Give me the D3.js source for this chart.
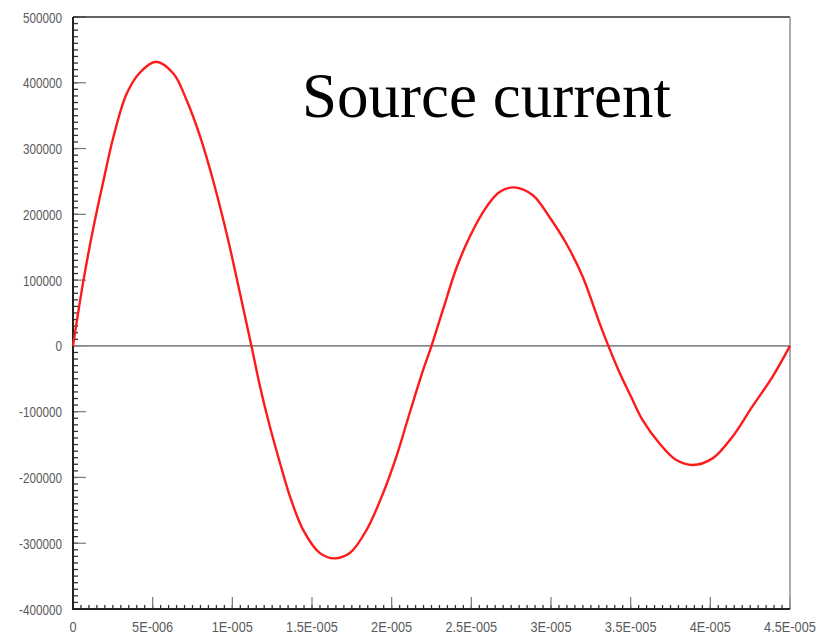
<!DOCTYPE html>
<html>
<head>
<meta charset="utf-8">
<script src="https://cdn.jsdelivr.net/npm/d3@7"></script>
<style>
  html, body { margin: 0; padding: 0; background: #fff; }
  svg { display: block; }
</style>
</head>
<body>
<svg id="chart" width="825" height="636"></svg>
<script>
// ---- data ----
const chartTitle = "Source current";
const timeUs = [0, 0.66, 1.29, 1.92, 2.54, 3.38, 4.22, 5.2, 6.3, 7.14, 7.98, 8.81, 9.65, 10.48, 11.2,
  11.74, 12.36, 12.99, 13.62, 14.45, 15.5, 16.4, 17.37, 18.42, 19.46, 20.3, 21.13, 21.97, 22.5,
  23.22, 24.06, 24.9, 25.94, 26.77, 27.7, 28.86, 29.9, 30.95, 31.99, 33.04, 33.6,
  34.29, 35.02, 35.75, 36.8, 37.84, 38.9, 40.14, 41.39, 42.64, 43.9, 45];
const currentKA = [0, 100, 181, 252, 318, 384, 416, 432, 414, 373, 318, 250, 170, 80, 0,
  -62, -123, -178, -229, -280, -315, -323, -315, -280, -224, -168, -102, -37, 0,
  55, 118, 166, 211, 234, 241, 229, 196, 156, 105, 35, 0,
  -40, -77, -113, -148, -173, -181, -171, -138, -92, -47, 0];
const yTickValues = [500000, 400000, 300000, 200000, 100000, 0, -100000, -200000, -300000, -400000];
const yTickLabels = ["500000", "400000", "300000", "200000", "100000", "0", "-100000", "-200000", "-300000", "-400000"];
const xTickValues = [0, 5e-6, 1e-5, 1.5e-5, 2e-5, 2.5e-5, 3e-5, 3.5e-5, 4e-5, 4.5e-5];
const xTickLabels = ["0", "5E-006", "1E-005", "1.5E-005", "2E-005", "2.5E-005", "3E-005", "3.5E-005", "4E-005", "4.5E-005"];

// ---- layout ----
const svg = d3.select("#chart");
const L = 73, R = 790, T = 17, B = 609;
const x = d3.scaleLinear().domain([0, 4.5e-5]).range([L, R]);
const y = d3.scaleLinear().domain([-400000, 500000]).range([B, T]);

const points = timeUs.map((t, i) => ({ t: t * 1e-6, v: currentKA[i] * 1000 }));

// minor ticks on y axis (inward)
const yMinor = d3.range(-400000, 500001, 10000);
svg.append("g").selectAll("line").data(yMinor).join("line")
  .attr("x1", L).attr("x2", L + 5)
  .attr("y1", d => y(d)).attr("y2", d => y(d))
  .attr("stroke", "#333").attr("stroke-width", 1.3);
// major y ticks
svg.append("g").selectAll("line").data(yTickValues).join("line")
  .attr("x1", L).attr("x2", L + 13)
  .attr("y1", d => y(d)).attr("y2", d => y(d))
  .attr("stroke", "#777").attr("stroke-width", 1.2);

// minor ticks on x axis
const xMinor = d3.range(0, 91).map(i => i * 5e-7);
svg.append("g").selectAll("line").data(xMinor).join("line")
  .attr("x1", d => x(d)).attr("x2", d => x(d))
  .attr("y1", B).attr("y2", B - 4)
  .attr("stroke", "#333").attr("stroke-width", 1.3);
svg.append("g").selectAll("line").data(xTickValues).join("line")
  .attr("x1", d => x(d)).attr("x2", d => x(d))
  .attr("y1", B).attr("y2", B - 12)
  .attr("stroke", "#777").attr("stroke-width", 1.2);

// zero line
svg.append("line")
  .attr("x1", L).attr("x2", R).attr("y1", y(0)).attr("y2", y(0))
  .attr("stroke", "#8a8a8a").attr("stroke-width", 1.6);

// frame
svg.append("line").attr("x1", L).attr("x2", R).attr("y1", T).attr("y2", T)
  .attr("stroke", "#333").attr("stroke-width", 1.6);
svg.append("line").attr("x1", R).attr("x2", R).attr("y1", T).attr("y2", B)
  .attr("stroke", "#999").attr("stroke-width", 1.6);
svg.append("line").attr("x1", L).attr("x2", L).attr("y1", T).attr("y2", B + 1)
  .attr("stroke", "#222").attr("stroke-width", 2);
svg.append("line").attr("x1", L - 1).attr("x2", R).attr("y1", B).attr("y2", B)
  .attr("stroke", "#222").attr("stroke-width", 2);

// curve
const line = d3.line().x(d => x(d.t)).y(d => y(d.v)).curve(d3.curveCatmullRom.alpha(0.5));
svg.append("path").datum(points)
  .attr("d", line)
  .attr("fill", "none").attr("stroke", "#ff1a1a").attr("stroke-width", 2.4)
  .attr("stroke-linejoin", "round");

// y labels
const yLab = svg.append("g").selectAll("text").data(yTickValues).join("text")
  .attr("x", 62).attr("y", d => y(d) + 5.5)
  .attr("text-anchor", "end")
  .attr("font-family", "'Liberation Sans', Arial, sans-serif")
  .attr("font-size", 15).attr("fill", "#5a5a5a")
  .text((d, i) => yTickLabels[i]);
yLab.each(function () {
  const w = this.getComputedTextLength();
  d3.select(this).attr("textLength", w * 0.78).attr("lengthAdjust", "spacingAndGlyphs");
});

// x labels
const xLab = svg.append("g").selectAll("text").data(xTickValues).join("text")
  .attr("x", d => x(d)).attr("y", 632)
  .attr("text-anchor", "middle")
  .attr("font-family", "'Liberation Sans', Arial, sans-serif")
  .attr("font-size", 15).attr("fill", "#5a5a5a")
  .text((d, i) => xTickLabels[i]);
xLab.each(function () {
  const w = this.getComputedTextLength();
  d3.select(this).attr("textLength", w * 0.85).attr("lengthAdjust", "spacingAndGlyphs");
});

// title
svg.append("text")
  .attr("x", 302).attr("y", 117)
  .attr("font-family", "'Liberation Serif', 'Times New Roman', serif")
  .attr("font-size", 63).attr("fill", "#000")
  .text(chartTitle);
</script>
</body>
</html>
